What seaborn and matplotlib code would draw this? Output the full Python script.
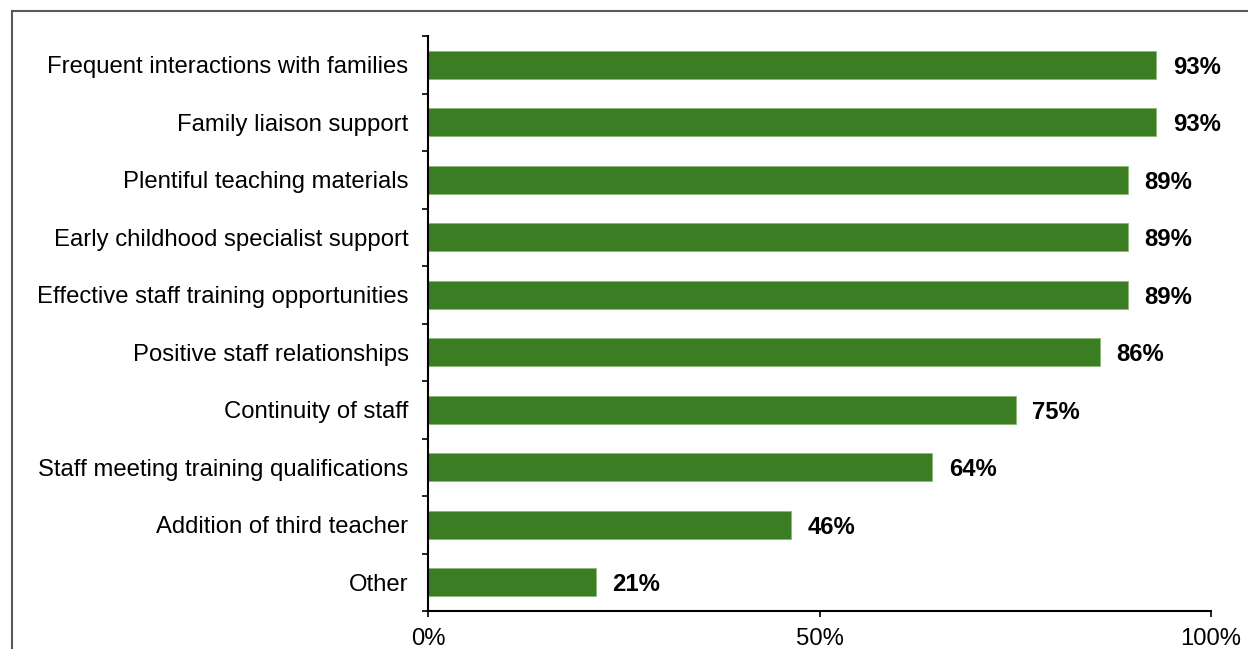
import matplotlib
matplotlib.use("Agg")
import matplotlib.pyplot as plt
import matplotlib.patches as mpatches
from matplotlib.ticker import FixedLocator, PercentFormatter
import seaborn as sns
import pandas as pd
import numpy as np

categories = [
    "Frequent interactions with families",
    "Family liaison support",
    "Plentiful teaching materials",
    "Early childhood specialist support",
    "Effective staff training opportunities",
    "Positive staff relationships",
    "Continuity of staff",
    "Staff meeting training qualifications",
    "Addition of third teacher",
    "Other",
]
values = [93.0, 93.0, 89.4, 89.4, 89.4, 85.8, 75.1, 64.4, 46.4, 21.4]
value_labels = ["93%", "93%", "89%", "89%", "89%", "86%", "75%", "64%", "46%", "21%"]
x_ticks = [0, 50, 100]

sns.set_theme(style="white")
plt.rcParams["font.family"] = ["Liberation Sans", "DejaVu Sans"]

fig = plt.figure(figsize=(12.48, 6.49), dpi=100)
ax = fig.add_axes([428 / 1248, 38 / 649, (1211 - 428) / 1248, (611 - 36) / 649])

df = pd.DataFrame({"cat": categories, "val": values})
sns.barplot(data=df, y="cat", x="val", orient="h", color="#3A7D22", saturation=1,
            width=0.49, edgecolor="#8DB87A", linewidth=0.6, ax=ax)

ax.set_xlim(0, 100)
ax.set_ylim(len(categories) - 0.5, -0.5)
ax.set_xlabel("")
ax.set_ylabel("")

FS = 17.2
for i, (v, lab) in enumerate(zip(values, value_labels)):
    ax.text(v + 2.1, i, lab, va="center_baseline", ha="left", fontsize=FS,
            fontweight="bold", color="black")

# spines
for s in ["top", "right"]:
    ax.spines[s].set_visible(False)
for s in ["left", "bottom"]:
    ax.spines[s].set_color("black")
    ax.spines[s].set_linewidth(1.5)

ax.set_xticks(x_ticks)
ax.xaxis.set_major_formatter(PercentFormatter(decimals=0))
ax.tick_params(axis="x", direction="out", length=4.5, width=1.2, color="black",
               labelsize=FS, pad=8, bottom=True)
ax.tick_params(axis="y", which="major", length=0, labelsize=FS, pad=14, left=True)
ax.yaxis.set_minor_locator(FixedLocator(np.arange(-0.5, len(categories), 1.0)))
ax.tick_params(axis="y", which="minor", direction="out", length=4.5, width=1.2,
               color="black", left=True)
for t in ax.get_yticklabels() + ax.get_xticklabels():
    t.set_color("black")

# outer frame
frame = mpatches.Rectangle((11.5 / 1248, -0.1), 1.2, (649 - 11.5) / 649 + 0.1,
                           transform=fig.transFigure, fill=False,
                           edgecolor="#595959", linewidth=1.5, clip_on=False)
fig.patches.append(frame)

fig.savefig("out.png", dpi=100)
